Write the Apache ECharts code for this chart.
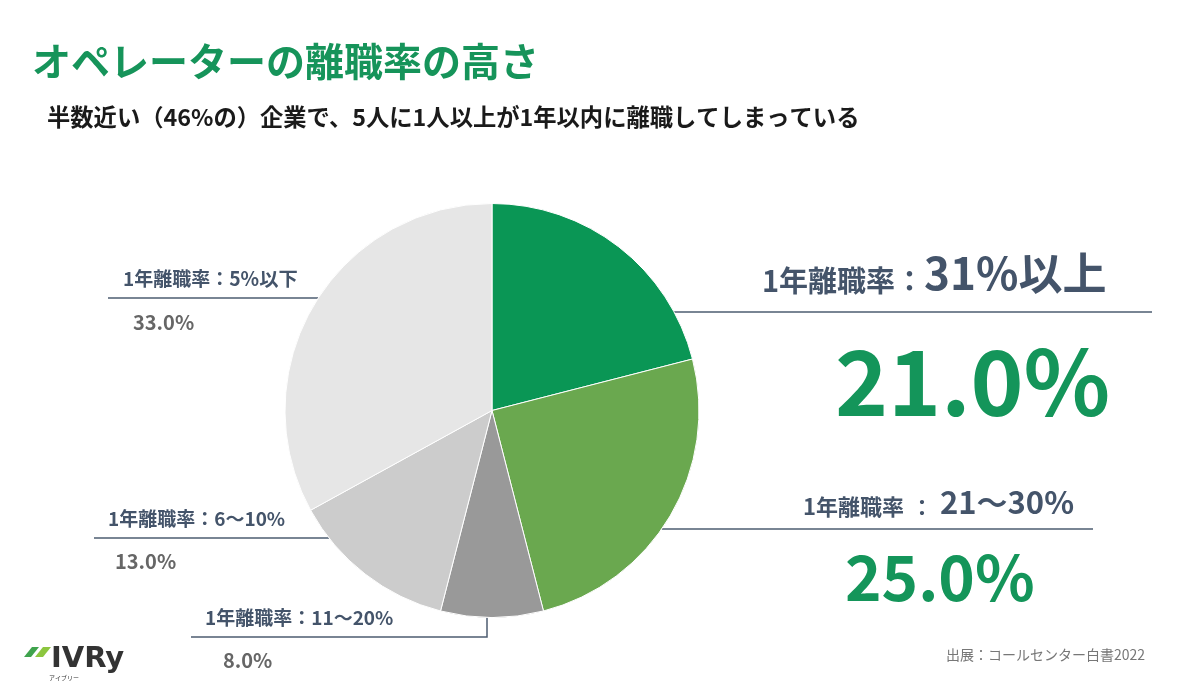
<!DOCTYPE html>
<html>
<head>
<meta charset="utf-8">
<script src="https://cdn.jsdelivr.net/npm/echarts@6.0.0/dist/echarts.min.js"></script>
<style>
html,body{margin:0;padding:0;background:#ffffff;}
#chart{width:1200px;height:698px;}
</style>
</head>
<body>
<div id="chart"></div>
<script>
// ---- data ----
const categories = ['31%以上', '21〜30%', '11〜20%', '6〜10%', '5%以下'];
const labelPrefix = '1年離職率';
const labelSeparator = '：';
const values = [21.0, 25.0, 8.0, 13.0, 33.0];
const titleText = 'オペレーターの離職率の高さ';
const subtitleText = '半数近い（46%の）企業で、5人に1人以上が1年以内に離職してしまっている';
const sourceText = '出展：コールセンター白書2022';
const logoText = 'IVRy';
const logoSubText = 'アイブリー';

// ---- styles / layout ----
const FONT = '"Noto Sans CJK JP", "Noto Sans", sans-serif';
const sliceColors = ['#0a9655', '#6aa84f', '#999999', '#cccccc', '#e6e6e6'];
const TITLE_COLOR = '#44546a';
const LINE_COLOR = '#4d5c70';
const GREEN_TEXT = '#14955a';
const GRAY_TEXT = '#666666';
const CX = 492, CY = 410.5, R = 207;

const labelStyles = [
  { x: 762, top: 245.3, LT: 50, LV: 172, t: 29, r: 44, cPad: 0, v: 90, vColor: GREEN_TEXT, vPad: 73, lineY: 312, lineEnd: 1152, side: 'right' },
  { x: 803, top: 481.5, LT: 36, LV: 120, t: 22, r: 31, cPad: 7, v: 62, vColor: GREEN_TEXT, vPad: 42, lineY: 529, lineEnd: 1093, side: 'right' },
  { x: 205, top: 601.3, LT: 26, LV: 66, t: 19, r: 19, cPad: 0, v: 20, vColor: GRAY_TEXT, vPad: 18, lineY: 637, lineEnd: 191, side: 'bottom', vx: 487 },
  { x: 108, top: 502.3, LT: 26, LV: 66, t: 19, r: 19, cPad: 0, v: 20, vColor: GRAY_TEXT, vPad: 7, lineY: 538, lineEnd: 94, side: 'left' },
  { x: 123, top: 262.3, LT: 26, LV: 68, t: 19, r: 19.3, cPad: 0, v: 20, vColor: GRAY_TEXT, vPad: 10, lineY: 298, lineEnd: 108, side: 'left' }
];

function guidePoints(s) {
  if (s.side === 'bottom') {
    const ey = CY + Math.sqrt(R * R - (s.vx - CX) * (s.vx - CX));
    return [[s.vx, ey], [s.vx, s.lineY], [s.lineEnd, s.lineY]];
  }
  const dx = Math.sqrt(R * R - (s.lineY - CY) * (s.lineY - CY));
  const ex = s.side === 'right' ? CX + dx : CX - dx;
  return [[ex, s.lineY], [s.lineEnd, s.lineY], [s.lineEnd, s.lineY]];
}

const pieData = categories.map((name, i) => {
  const s = labelStyles[i];
  return {
    name: name,
    value: values[i],
    itemStyle: { color: sliceColors[i] },
    label: {
      rich: {
        t: { fontFamily: FONT, fontSize: s.t, fontWeight: 'bold', color: TITLE_COLOR, lineHeight: s.t, verticalAlign: 'bottom' },
        c: { fontFamily: FONT, fontSize: s.t, fontWeight: 'bold', color: TITLE_COLOR, lineHeight: s.t, verticalAlign: 'bottom', padding: [0, s.cPad, 0, s.cPad] },
        r: { fontFamily: FONT, fontSize: s.r, fontWeight: 'bold', color: TITLE_COLOR, lineHeight: s.LT, verticalAlign: 'bottom' },
        v: { fontFamily: FONT, fontSize: s.v, fontWeight: 'bold', color: s.vColor, lineHeight: s.LV, verticalAlign: 'middle', padding: [0, 0, 0, s.vPad] }
      }
    }
  };
});

const chart = echarts.init(document.getElementById('chart'), null, { renderer: 'canvas' });

const option = {
  backgroundColor: '#ffffff',
  animation: false,
  graphic: {
    elements: [
      { type: 'text', left: 32, top: 42, style: { text: titleText, fontFamily: FONT, fontSize: 39, fontWeight: 'bold', fill: '#16945a' } },
      { type: 'text', left: 47, top: 106, style: { text: subtitleText, fontFamily: FONT, fontSize: 23.3, fontWeight: 'bold', fill: '#1a1a1a' } },
      { type: 'text', right: 55, top: 648, style: { text: sourceText, fontFamily: FONT, fontSize: 14, fill: '#777777' } },
      { type: 'polygon', shape: { points: [[32, 647], [39, 647], [31, 657], [24, 657]] }, style: { fill: '#3fa34d' } },
      { type: 'polygon', shape: { points: [[43, 647], [51, 647], [43, 657], [35, 657]] }, style: { fill: '#8cc63f' } },
      { type: 'text', left: 51, top: 645, style: { text: logoText, fontFamily: '"DejaVu Sans", sans-serif', fontSize: 29, fontWeight: 'bold', fill: '#333333' } },
      { type: 'text', left: 49, top: 675, style: { text: logoSubText, fontFamily: FONT, fontSize: 6, fill: '#333333' } }
    ]
  },
  series: [{
    type: 'pie',
    center: [CX, CY],
    radius: R,
    startAngle: 90,
    clockwise: true,
    avoidLabelOverlap: false,
    silent: true,
    itemStyle: { borderColor: '#ffffff', borderWidth: 1 },
    emphasis: { disabled: true },
    label: {
      show: true,
      position: 'outside',
      formatter: function (p) {
        return '{t|' + labelPrefix + '}{c|' + labelSeparator + '}{r|' + categories[p.dataIndex] + '}\n{v|' + values[p.dataIndex].toFixed(1) + '%}';
      }
    },
    labelLine: { show: true, smooth: false, lineStyle: { color: LINE_COLOR, width: 1.5 } },
    labelLayout: function (params) {
      const s = labelStyles[params.dataIndex];
      return {
        x: s.x,
        y: s.top,
        align: 'left',
        verticalAlign: 'top',
        labelLinePoints: guidePoints(s)
      };
    },
    data: pieData
  }]
};

chart.setOption(option);
</script>
</body>
</html>
